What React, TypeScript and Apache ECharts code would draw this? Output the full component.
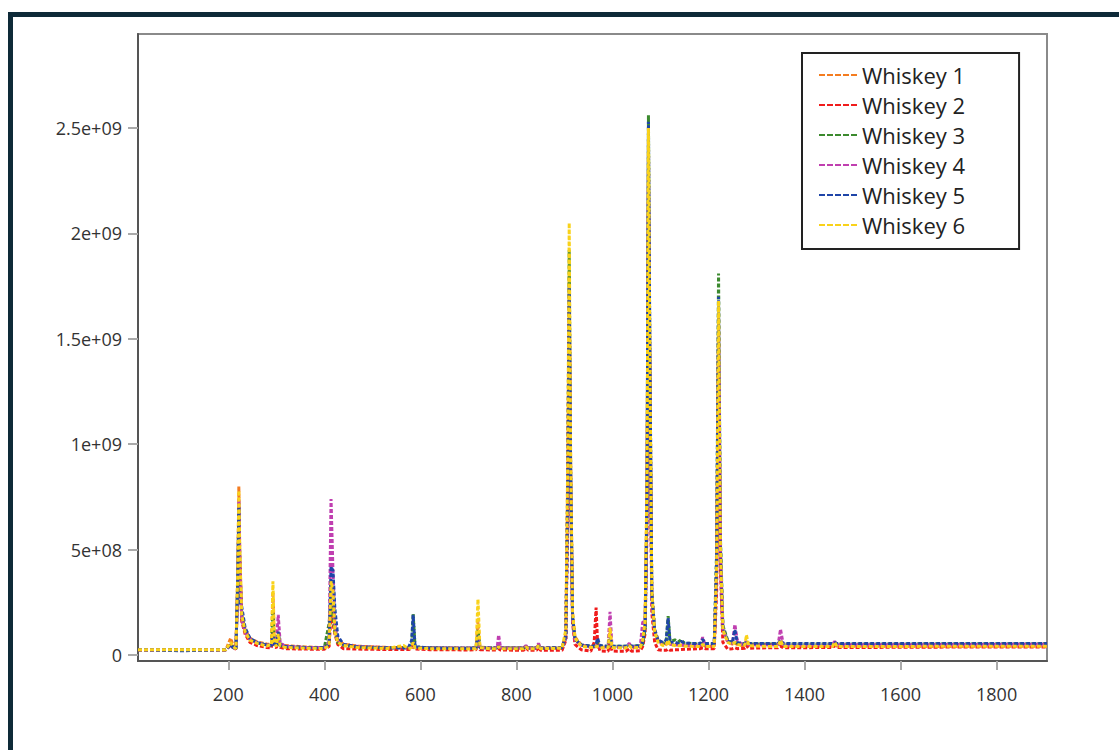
import React, { useEffect, useRef } from "react";
import * as echarts from "echarts";

// m/z positions (shared sampling points for all six spectra)
const mz = [
  12, 100, 195, 205, 210, 216, 220, 222, 224, 228,
  235, 245, 260, 280, 290, 293, 296, 300, 304, 308,
  318, 360, 400, 410, 414, 418, 422, 428, 440, 470,
  530, 565, 575, 582, 585, 589, 620, 700, 716, 720,
  724, 745, 760, 763, 767, 815, 820, 825, 842, 846,
  850, 895, 903, 907, 910, 913, 917, 922, 935, 955,
  962, 966, 969, 974, 988, 991, 995, 999, 1010, 1028,
  1035, 1040, 1058, 1063, 1068, 1072, 1075, 1078, 1082, 1088,
  1095, 1105, 1112, 1116, 1120, 1130, 1137, 1143, 1150, 1165,
  1183, 1188, 1193, 1212, 1217, 1221, 1225, 1230, 1240, 1250,
  1255, 1260, 1270, 1276, 1279, 1284, 1320, 1345, 1350, 1356,
  1420, 1458, 1463, 1468, 1550, 1650, 1750, 1905,
];

// intensities, in millions of counts
const whiskey1 = [
  25, 24, 25, 80, 45, 32, 420, 800, 480, 190,
  120, 80, 62, 52, 50, 300, 65, 50, 70, 52,
  45, 38, 35, 55, 300, 200, 120, 70, 52, 42,
  36, 35, 34, 36, 60, 36, 34, 32, 33, 160,
  38, 33, 33, 42, 33, 33, 42, 33, 33, 48,
  33, 33, 100, 900, 1800, 900, 200, 85, 48, 38,
  37, 42, 38, 37, 36, 36, 120, 38, 35, 34,
  48, 34, 38, 60, 150, 800, 2450, 1400, 300, 120,
  72, 55, 52, 62, 52, 48, 47, 48, 45, 43,
  42, 48, 42, 42, 400, 1600, 500, 120, 62, 52,
  56, 50, 45, 44, 72, 44, 42, 42, 72, 42,
  41, 41, 58, 41, 41, 40, 41, 42,
];
const whiskey2 = [
  24, 23, 24, 55, 36, 28, 350, 650, 420, 160,
  100, 60, 45, 36, 34, 120, 40, 35, 60, 36,
  30, 28, 27, 40, 200, 150, 100, 50, 30, 28,
  26, 26, 26, 28, 40, 28, 25, 24, 25, 80,
  25, 24, 24, 30, 24, 22, 35, 22, 22, 40,
  22, 22, 70, 700, 1600, 800, 150, 50, 25, 18,
  60, 225, 60, 20, 18, 18, 70, 20, 18, 18,
  30, 18, 20, 40, 100, 600, 2200, 1200, 200, 60,
  25, 22, 22, 28, 22, 25, 25, 26, 27, 28,
  30, 34, 30, 30, 300, 1450, 400, 60, 28, 30,
  34, 30, 31, 32, 45, 32, 34, 34, 42, 34,
  35, 35, 45, 35, 36, 37, 38, 38,
];
const whiskey3 = [
  25, 25, 25, 50, 35, 30, 380, 720, 450, 180,
  110, 75, 58, 48, 45, 200, 52, 45, 60, 45,
  40, 36, 34, 150, 250, 180, 110, 60, 45, 38,
  34, 34, 34, 50, 195, 38, 34, 33, 34, 120,
  36, 34, 34, 38, 34, 34, 40, 34, 34, 42,
  34, 36, 80, 800, 1920, 850, 180, 75, 48, 42,
  42, 45, 60, 42, 42, 42, 80, 42, 42, 42,
  45, 42, 44, 50, 120, 700, 2560, 1400, 280, 110,
  65, 55, 62, 185, 62, 72, 62, 72, 56, 54,
  52, 58, 52, 52, 500, 1810, 550, 140, 70, 58,
  62, 56, 52, 52, 62, 52, 52, 52, 62, 52,
  52, 52, 56, 52, 52, 53, 53, 54,
];
const whiskey4 = [
  25, 22, 25, 45, 35, 30, 350, 740, 450, 170,
  110, 75, 58, 48, 45, 100, 52, 50, 190, 60,
  42, 36, 35, 60, 740, 400, 150, 70, 50, 40,
  35, 34, 34, 36, 60, 34, 33, 33, 34, 80,
  34, 33, 34, 95, 34, 33, 45, 33, 33, 55,
  33, 34, 80, 780, 1700, 850, 170, 70, 46, 38,
  38, 45, 40, 38, 38, 40, 205, 42, 38, 38,
  55, 38, 42, 155, 170, 650, 2300, 1300, 250, 110,
  62, 52, 52, 62, 52, 48, 48, 48, 46, 46,
  46, 85, 46, 46, 400, 1550, 450, 120, 62, 55,
  145, 70, 50, 48, 65, 48, 48, 48, 122, 48,
  48, 48, 65, 48, 48, 49, 50, 51,
];
const whiskey5 = [
  25, 20, 25, 50, 35, 30, 370, 700, 250, 230,
  130, 80, 58, 48, 45, 90, 50, 45, 110, 50,
  40, 35, 34, 50, 420, 400, 220, 90, 50, 38,
  34, 34, 34, 70, 190, 40, 33, 32, 33, 90,
  34, 32, 32, 40, 32, 32, 38, 32, 32, 45,
  32, 34, 90, 800, 1750, 880, 180, 75, 48, 42,
  42, 50, 80, 45, 42, 42, 90, 42, 42, 42,
  45, 42, 44, 60, 130, 750, 2530, 1450, 300, 120,
  70, 60, 70, 175, 60, 60, 55, 65, 56, 55,
  54, 75, 54, 54, 450, 1700, 520, 130, 65, 60,
  120, 60, 55, 54, 60, 54, 54, 54, 70, 54,
  54, 54, 58, 54, 54, 54, 55, 55,
];
const whiskey6 = [
  25, 25, 25, 60, 40, 30, 420, 780, 500, 190,
  110, 70, 55, 42, 50, 350, 60, 40, 100, 45,
  36, 32, 31, 45, 350, 300, 110, 60, 45, 35,
  31, 45, 31, 35, 60, 33, 30, 29, 30, 265,
  35, 30, 30, 40, 30, 30, 38, 30, 30, 45,
  30, 32, 120, 950, 2050, 950, 200, 80, 42, 35,
  35, 40, 40, 35, 34, 34, 130, 35, 34, 34,
  45, 34, 36, 70, 160, 850, 2500, 1400, 300, 110,
  60, 45, 48, 70, 48, 45, 44, 45, 42, 41,
  40, 50, 40, 40, 420, 1680, 500, 120, 60, 50,
  60, 50, 45, 48, 95, 44, 40, 40, 70, 40,
  40, 40, 60, 40, 40, 41, 41, 42,
];

const seriesNames = ["Whiskey 1", "Whiskey 2", "Whiskey 3", "Whiskey 4", "Whiskey 5", "Whiskey 6"];
const seriesValues = [whiskey1, whiskey2, whiskey3, whiskey4, whiskey5, whiskey6];
const seriesColors = ["#f47c20", "#f01c1c", "#3c8a2e", "#c03fb0", "#1f45a8", "#f9d21a"];

const xTickValues = [200, 400, 600, 800, 1000, 1200, 1400, 1600, 1800];
const yTickValues = [0, 5e8, 1e9, 1.5e9, 2e9, 2.5e9];
const yTickLabels = ["0", "5e+08", "1e+09", "1.5e+09", "2e+09", "2.5e+09"];

const FONT = "'Open Sans', 'DejaVu Sans', sans-serif";

export default function App() {
  const ref = useRef<HTMLDivElement>(null);

  useEffect(() => {
    if (!ref.current) return;
    const chart = echarts.init(ref.current, null, { renderer: "svg" });
    const series = seriesNames.map((name, s) => ({
      name,
      type: "line",
      symbol: "none",
      showSymbol: false,
      color: seriesColors[s],
      lineStyle: { color: seriesColors[s], width: 3, type: [4, 2] },
      data: mz.map((x, i) => [x, seriesValues[s][i] * 1e6]),
      z: 2 + s,
    }));
    chart.setOption({
      animation: false,
      backgroundColor: "#ffffff",
      graphic: [
        { type: "rect", shape: { x: 8, y: 12, width: 1111, height: 5 }, style: { fill: "#0e2a38" }, silent: true },
        { type: "rect", shape: { x: 8, y: 12, width: 5, height: 738 }, style: { fill: "#0e2a38" }, silent: true },
      ],
      grid: {
        left: 138,
        right: 72,
        top: 34,
        bottom: 89,
        show: true,
        borderColor: "#8a8a8a",
        borderWidth: 2,
      },
      legend: {
        orient: "vertical",
        left: 802,
        top: 53,
        padding: [11, 54, 13, 16],
        borderColor: "#222222",
        borderWidth: 2,
        backgroundColor: "#ffffff",
        itemWidth: 38,
        itemHeight: 14,
        itemGap: 8,
        itemStyle: { opacity: 0, borderWidth: 0 },
        lineStyle: { width: 2, type: [6, 2] },
        textStyle: { fontFamily: FONT, fontSize: 22, color: "#222222", lineHeight: 22 },
        data: seriesNames,
      },
      xAxis: {
        type: "value",
        min: 12,
        max: 1905,
        axisLine: { show: true, onZero: false, lineStyle: { color: "#555555", width: 2 } },
        axisTick: { show: true, length: 9, lineStyle: { color: "#aaaaaa", width: 2 }, customValues: xTickValues },
        axisLabel: {
          customValues: xTickValues,
          margin: 24,
          fontFamily: FONT,
          fontSize: 18,
          color: "#333333",
          formatter: (v: number) => String(Math.round(v)),
        },
        splitLine: { show: false },
      },
      yAxis: {
        type: "value",
        min: -28.5e6,
        max: 2946e6,
        axisLine: { show: true, onZero: false, lineStyle: { color: "#555555", width: 2 } },
        axisTick: { show: true, length: 10, lineStyle: { color: "#aaaaaa", width: 2 }, customValues: yTickValues },
        axisLabel: {
          customValues: yTickValues,
          margin: 16,
          fontFamily: FONT,
          fontSize: 18,
          color: "#333333",
          formatter: (v: number) => {
            const i = yTickValues.findIndex((t) => Math.abs(t - v) < 1);
            return i >= 0 ? yTickLabels[i] : "";
          },
        },
        splitLine: { show: false },
      },
      series,
    });
    return () => chart.dispose();
  }, []);

  return (
    <div
      ref={ref}
      style={{ position: "fixed", left: 0, top: 0, width: 1119, height: 750, background: "#ffffff" }}
    />
  );
}
